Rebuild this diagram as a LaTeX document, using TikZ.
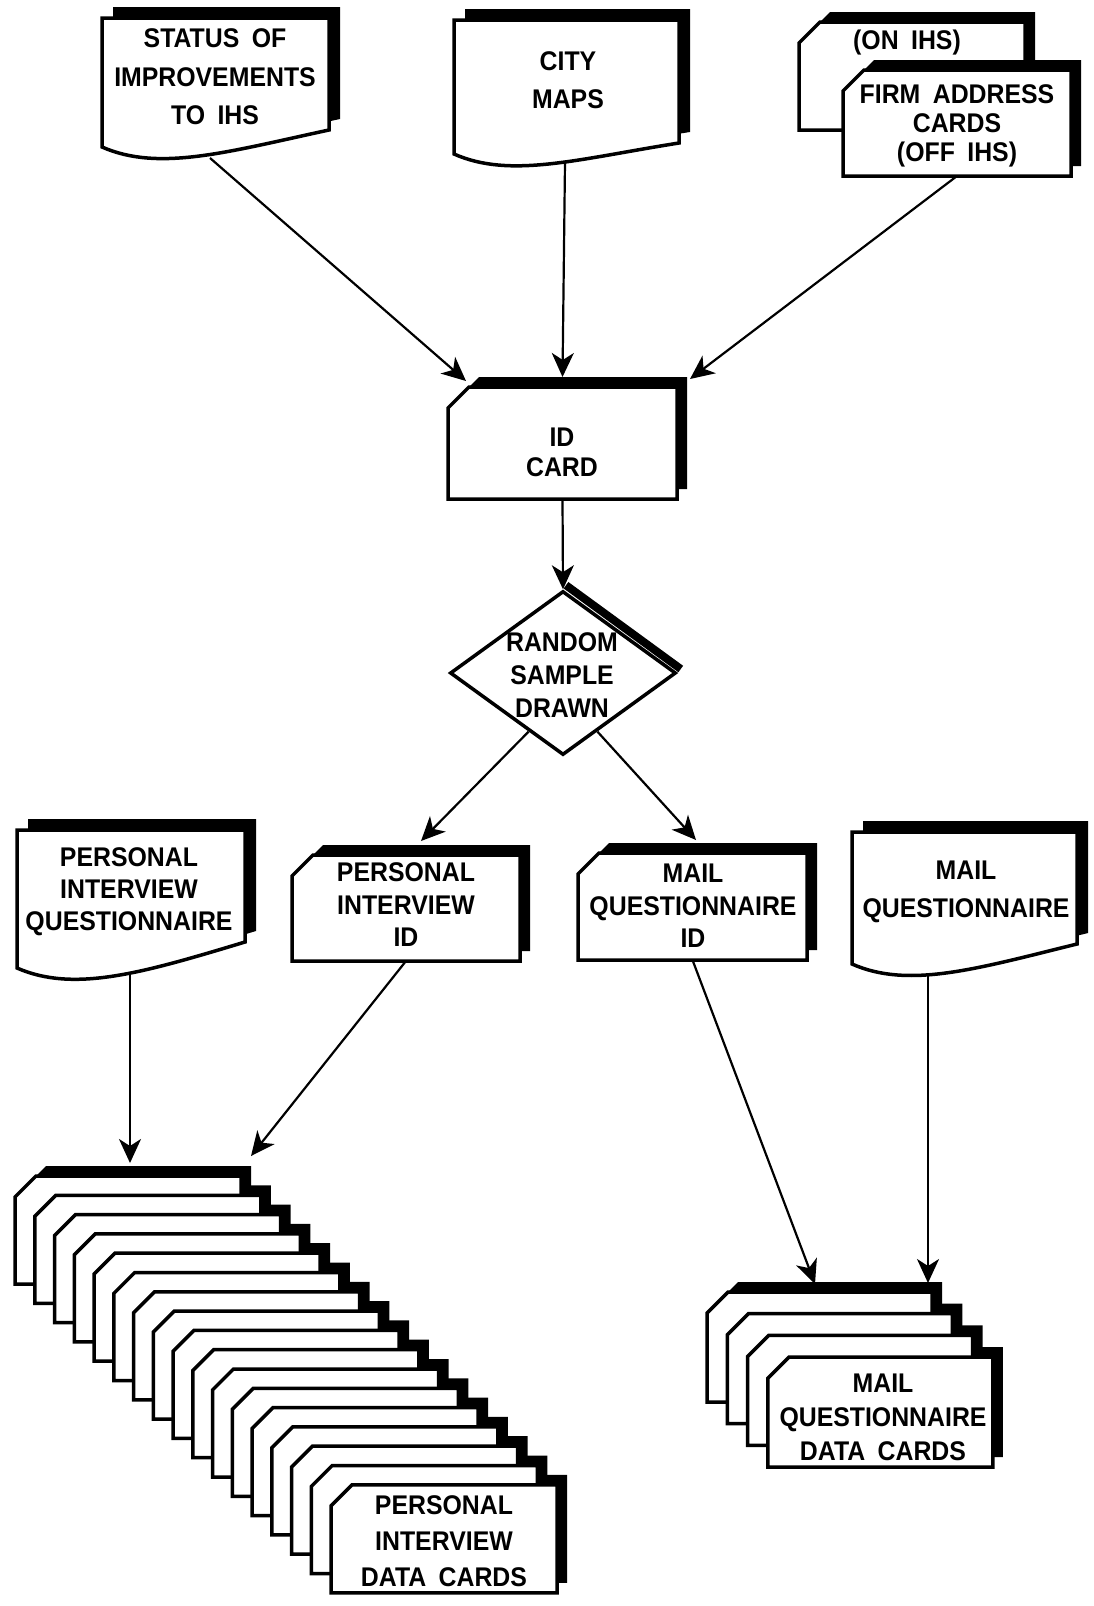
\documentclass[tikz,border=0pt]{standalone}
\usepackage{fontspec}
\setmainfont{Liberation Sans}[FakeStretch=0.92, WordSpace=1.8]
\usetikzlibrary{arrows.meta,calc,shapes.geometric}

\def\notch{21}
\def\sx{10}
\def\sy{10}

% shadow of a card with cut corner: L T w h
\newcommand{\cardshadow}[4]{%
  \fill[black] (#1+\sx,#2+\notch-\sy) -- (#1+\notch+\sx,#2-\sy) -- (#1+#3+\sx,#2-\sy)
     -- (#1+#3+\sx,#2+#4-\sy) -- (#1+\sx,#2+#4-\sy) -- cycle;}
% card body and its node: name L T w h
\newcommand{\cardbody}[5]{%
  \draw[cardline] (#2,#3+\notch) -- (#2+\notch,#3) -- (#2+#4,#3) -- (#2+#4,#3+#5) -- (#2,#3+#5) -- cycle;
  \node[cardnode, minimum width=#4pt, minimum height=#5pt] (#1) at (#2+#4/2,#3+#5/2) {};}
% document shape: name L T w hL rise
\newcommand{\docshape}[6]{%
  \fill[black] (#2+11,#3-11) -- (#2+#4+11,#3-11) -- (#2+#4+11,#3+#5-#6-11)
     .. controls (#2+0.55*#4+11,#3+#5-6) and (#2+0.25*#4+11,#3+#5+14) .. (#2+11,#3+#5-11) -- cycle;
  \draw[cardline] (#2,#3) -- (#2+#4,#3) -- (#2+#4,#3+#5-#6)
     .. controls (#2+0.55*#4,#3+#5+5) and (#2+0.25*#4,#3+#5+25) .. (#2,#3+#5) -- cycle;
  \pgfmathsetmacro\hh{#5-#6}%
  \node[cardnode, minimum width=#4pt, minimum height=\hh pt] (#1) at (#2+#4/2,#3+\hh/2) {};}

\tikzset{
  txt/.style={align=center, inner sep=0pt, font=\fontsize{27}{#1}\selectfont\bfseries},
  txt/.default=33,
  cardline/.style={draw=black, line width=3.5pt, fill=white},
  cardnode/.style={inner sep=0pt, outer sep=0pt, draw=none},
  arr/.style={line width=2.2pt, -{Stealth[length=24pt,width=22pt,inset=7pt,fill=black]}},
}

\begin{document}
\begin{tikzpicture}[x=1pt,y=-1pt]
\fill[white] (0,0) rectangle (1094,1606);
\useasboundingbox (0,0) rectangle (1094,1606);

% ---- top sources
\docshape{status}{102}{18}{227}{129}{17}
\node[txt=38.5] (statust) at (215,77) {STATUS OF\\IMPROVEMENTS\\TO IHS};

\docshape{city}{454}{20}{225}{134}{11}
\node[txt=38] (cityt) at (568,80) {CITY\\MAPS};

\cardshadow{799}{22}{226}{108}
\cardbody{onihs}{799}{22}{226}{108}
\node[txt] (onihst) at (907,43) {(ON IHS)};
\cardshadow{843}{70}{228}{106}
\cardbody{firm}{843}{70}{228}{106}
\node[txt=29] (firmt) at (957,126) {FIRM ADDRESS\\CARDS\\(OFF IHS)};

% ---- ID card
\cardshadow{448}{387}{229}{112}
\cardbody{id}{448}{387}{229}{112}
\node[txt=30] (idt) at (562,452) {ID\\CARD};

% ---- decision
\node[diamond, cardline, minimum width=226pt, minimum height=164pt, inner sep=0pt] (rsd) at (563,673) {};
\draw[line width=8pt] ($(rsd.north)+(3,-4)$) -- ($(rsd.east)+(3,-4)$);
\node[txt=33] (rsdt) at (562,675) {RANDOM\\SAMPLE\\DRAWN};

% ---- middle row
\docshape{piq}{17}{830}{228}{138}{26}
\node[txt=32] (piqt) at (129,892) {PERSONAL\\INTERVIEW\\QUESTIONNAIRE};

\cardshadow{292}{855}{228}{106}
\cardbody{piid}{292}{855}{228}{106}
\node[txt=32.5] (piidt) at (406,905) {PERSONAL\\INTERVIEW\\ID};

\cardshadow{578}{853}{229}{107}
\cardbody{mqid}{578}{853}{229}{107}
\node[txt=32.5] (mqidt) at (693,906) {MAIL\\QUESTIONNAIRE\\ID};

\docshape{mqdoc}{852}{832}{225}{132}{20}
\node[txt=38] (mqdoct) at (966,892) {MAIL\\QUESTIONNAIRE};

% ---- personal interview data card stack
\foreach \i in {0,...,16}{%
  \pgfmathsetmacro\L{15+19.75*\i}\pgfmathsetmacro\T{1176+19.3*\i}%
  \cardshadow{\L}{\T}{226}{108}}
\foreach \i in {0,...,16}{%
  \pgfmathsetmacro\L{15+19.75*\i}\pgfmathsetmacro\T{1176+19.3*\i}%
  \cardbody{pd\i}{\L}{\T}{226}{108}}
\node[txt=36] (pdt) at (444,1541) {PERSONAL\\INTERVIEW\\DATA CARDS};

% ---- mail questionnaire data card stack
\foreach \i in {0,...,3}{%
  \pgfmathsetmacro\L{707+20.3*\i}\pgfmathsetmacro\T{1292+21.7*\i}%
  \cardshadow{\L}{\T}{225}{110}}
\foreach \i in {0,...,3}{%
  \pgfmathsetmacro\L{707+20.3*\i}\pgfmathsetmacro\T{1292+21.7*\i}%
  \cardbody{md\i}{\L}{\T}{225}{110}}
\node[txt=34] (mdt) at (883,1417) {MAIL\\QUESTIONNAIRE\\DATA CARDS};

% ---- connectors
\draw[arr] ($(status.south)+(-5.5,28)$) -- ($(id.north west)+(18,-6)$);
\draw[arr] ($(city.south)+(-1.5,19)$) -- ($(id.north)+(0,-10)$);
\draw[arr] (firm.south) -- ($(id.north east)+(13,-8)$);
\draw[arr] (id.south) -- (rsd.north);
\draw[arr] ($(rsd.west)!0.7!(rsd.south)$) -- ($(piid.north)+(15,-14)$);
\draw[arr] ($(rsd.east)!0.7!(rsd.south)$) -- ($(mqid.north)+(3.5,-13)$);
\draw[arr] ($(piq.south)+(-1,32)$) -- ($(pd0.north)+(2,-13)$);
\draw[arr] (piid.south) -- ($(pd0.north east)+(10,-20)$);
\draw[arr] (mqid.south) -- ($(md0.north)+(-4.5,-8)$);
\draw[arr] ($(mqdoc.south)+(-36.5,31)$) -- ($(md0.north east)+(-4,-9)$);
\end{tikzpicture}
\end{document}
